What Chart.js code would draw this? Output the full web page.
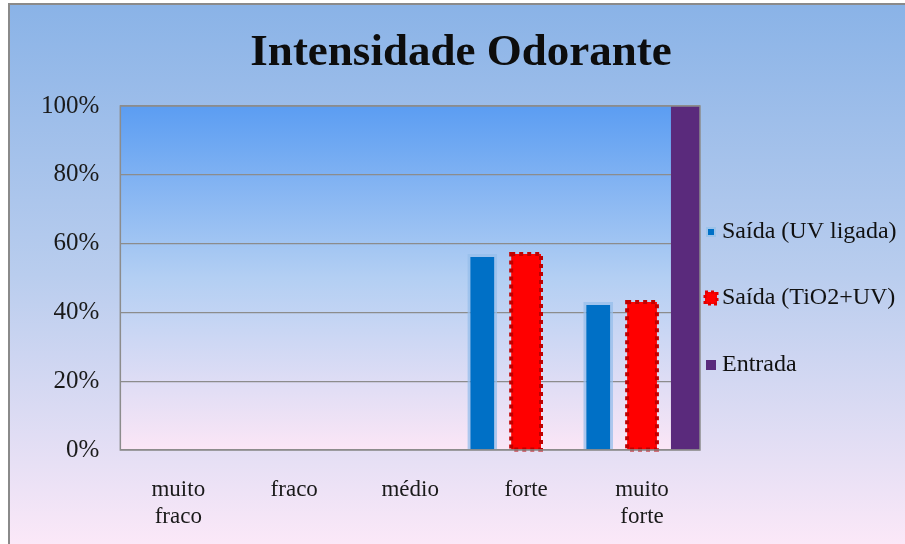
<!DOCTYPE html>
<html>
<head>
<meta charset="utf-8">
<script src="https://cdn.jsdelivr.net/npm/chart.js@4/dist/chart.umd.min.js"></script>
<style>
  html, body { margin: 0; padding: 0; background: #fff; }
  #wrap { width: 905px; height: 544px; position: relative; }
</style>
</head>
<body>
<div id="wrap"><canvas id="odorChart" width="905" height="544"></canvas></div>
<script>
// data
const categories = [['muito', 'fraco'], 'fraco', 'médio', 'forte', ['muito', 'forte']];
const saidaUV = [0, 0, 0, 57, 43];
const saidaTiO2 = [0, 0, 0, 57, 43];
const entrada = [0, 0, 0, 0, 100];
const seriesNames = ['Saída (UV ligada)', 'Saída (TiO2+UV)', 'Entrada'];
const yTicks = [0, 20, 40, 60, 80, 100];
const chartTitle = 'Intensidade Odorante';

const SERIF = '"Liberation Serif", "Times New Roman", serif';

// backgrounds + frame
const backgroundPlugin = {
    id: 'bg',
    beforeDraw(chart) {
        const { ctx, chartArea: a, width, height } = chart;
        ctx.save();
        ctx.fillStyle = '#ffffff';
        ctx.fillRect(0, 0, width, height);
        const g = ctx.createLinearGradient(0, 5, 0, height);
        g.addColorStop(0, '#8ab3e7');
        g.addColorStop(0.5, '#b9cdee');
        g.addColorStop(1, '#fbe8f8');
        ctx.fillStyle = g;
        ctx.fillRect(10, 5, width - 10, height - 5);
        ctx.fillStyle = '#8a8a8a';
        ctx.fillRect(8, 3, width - 8, 2);
        ctx.fillRect(8, 3, 2, height - 3);

        const pg = ctx.createLinearGradient(0, a.top, 0, a.bottom);
        pg.addColorStop(0, '#5b9df2');
        pg.addColorStop(0.5, '#b3cff3');
        pg.addColorStop(1, '#fbe6f6');
        ctx.fillStyle = pg;
        ctx.fillRect(a.left, a.top, a.right - a.left, a.bottom - a.top);
        ctx.restore();
    },
    afterDraw(chart) {
        const { ctx, chartArea: a } = chart;
        ctx.save();
        ctx.strokeStyle = '#8c8c8c';
        ctx.lineWidth = 1.5;
        ctx.strokeRect(a.left, a.top, a.right - a.left, a.bottom - a.top);
        // title, centred on the whole chart (not just the plot)
        ctx.font = 'bold 45px ' + SERIF;
        ctx.fillStyle = '#0d0d0d';
        ctx.textAlign = 'center';
        ctx.textBaseline = 'alphabetic';
        ctx.fillText(chartTitle, 461, 65);
        ctx.restore();
    }
};

// dotted border for the TiO2 series (bars don't support borderDash)
const dottedBorderPlugin = {
    id: 'dotted',
    afterDatasetsDraw(chart) {
        const meta = chart.getDatasetMeta(1);
        const { ctx } = chart;
        ctx.save();
        ctx.strokeStyle = '#c00000';
        ctx.lineWidth = 4;
        ctx.setLineDash([4, 4]);
        meta.data.forEach((bar, i) => {
            if (!saidaTiO2[i]) return;
            const p = bar.getProps(['x', 'y', 'base', 'width'], true);
            ctx.strokeRect(p.x - p.width / 2, p.y, p.width, p.base - p.y);
        });
        ctx.restore();
    }
};

// legend on the right, drawn by hand
const legendPlugin = {
    id: 'sideLegend',
    afterDraw(chart) {
        const { ctx } = chart;
        const x = 706, ys = [232, 298, 365];
        ctx.save();
        ctx.font = '24px ' + SERIF;
        ctx.textBaseline = 'middle';
        chart.data.datasets.forEach((ds, i) => {
            const y = ys[i];
            if (i === 0) {
                ctx.fillStyle = '#9cc3ea';
                ctx.fillRect(x, y - 5, 10, 10);
                ctx.fillStyle = ds.backgroundColor;
                ctx.fillRect(x + 2, y - 3, 6, 6);
            } else if (i === 1) {
                ctx.fillStyle = '#ff0000';
                ctx.fillRect(x - 1, y - 6, 12, 12);
                ctx.strokeStyle = '#e00000';
                ctx.lineWidth = 3;
                ctx.setLineDash([3, 3]);
                ctx.strokeRect(x - 1, y - 6, 12, 12);
                ctx.setLineDash([]);
            } else {
                ctx.fillStyle = ds.backgroundColor;
                ctx.fillRect(x, y - 5, 10, 10);
            }
            ctx.fillStyle = '#111';
            ctx.fillText(ds.label, x + 16, y);
        });
        ctx.restore();
    }
};

const ctx = document.getElementById('odorChart').getContext('2d');
new Chart(ctx, {
    type: 'bar',
    data: {
        labels: categories,
        datasets: [
            {
                label: seriesNames[0],
                data: saidaUV,
                backgroundColor: '#0070c6',
                borderColor: 'rgba(150,190,235,0.75)',
                borderWidth: 3,
                borderSkipped: 'start'
            },
            {
                label: seriesNames[1],
                data: saidaTiO2,
                backgroundColor: '#ff0000',
                borderWidth: 0
            },
            {
                label: seriesNames[2],
                data: entrada,
                backgroundColor: '#5a2a7c',
                borderWidth: 0
            }
        ]
    },
    options: {
        responsive: false,
        animation: false,
        devicePixelRatio: 1,
        layout: { padding: { left: 20, right: 205, top: 106, bottom: 0 } },
        datasets: {
            bar: { categoryPercentage: 1.134, barPercentage: 0.68 }
        },
        scales: {
            y: {
                min: 0,
                max: 100,
                afterBuildTicks: axis => { axis.ticks = yTicks.map(v => ({ value: v })); },
                grid: { color: '#8c8c8c', lineWidth: 1.2, drawTicks: false },
                border: { display: false },
                ticks: {
                    color: '#1a1a1a',
                    padding: 21,
                    font: { family: SERIF, size: 25 },
                    callback: v => v + '%'
                }
            },
            x: {
                afterFit: scale => { scale.height = 94; },
                grid: { display: false, drawTicks: false },
                border: { display: false },
                ticks: {
                    color: '#1a1a1a',
                    padding: 26,
                    maxRotation: 0,
                    font: { family: SERIF, size: 23, lineHeight: 1.2 }
                }
            }
        },
        plugins: {
            legend: { display: false },
            tooltip: { enabled: false },
            title: { display: false }
        }
    },
    plugins: [backgroundPlugin, dottedBorderPlugin, legendPlugin]
});
</script>
</body>
</html>
